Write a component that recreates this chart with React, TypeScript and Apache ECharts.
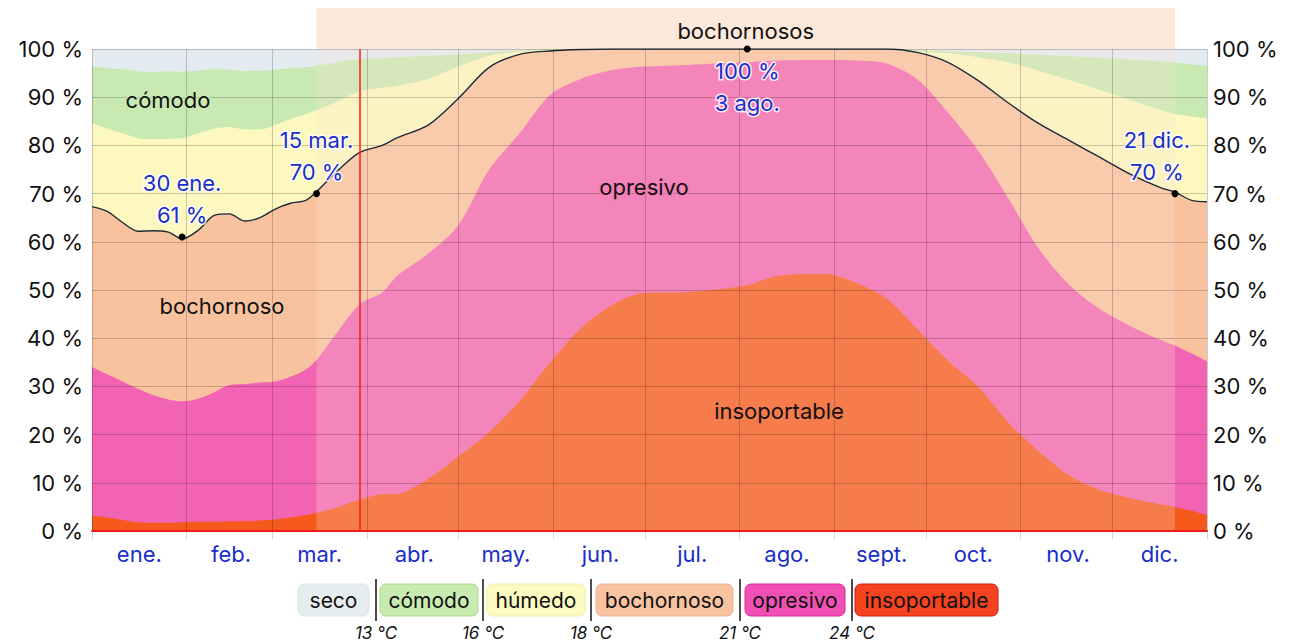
import React, { useEffect, useRef } from "react";
import * as echarts from "echarts";

// Day of year (0 = 1 ene.) at which each boundary value was read
const sampleDays = [0, 5, 10, 15, 20, 25, 29.5, 35, 40, 45, 50, 55, 60, 65, 70, 73.5, 80, 87.5, 95, 100, 110, 120, 130, 140, 150, 160, 170, 180, 195, 214.5, 225, 240, 250, 260, 270, 280, 290, 300, 310, 320, 330, 340, 350, 354.5, 360, 365];

// Cumulative percentage of time at or above each comfort level (upper edge of each band)
const insoportableTop = [3.2, 2.8, 2.3, 1.8, 1.7, 1.7, 1.8, 1.9, 1.9, 2.0, 2.0, 2.2, 2.4, 2.8, 3.3, 3.8, 4.8, 6.5, 7.6, 7.7, 10.8, 15.5, 20.5, 27, 35, 42, 46.8, 49.3, 49.6, 51, 53, 53.3, 51.5, 48.3, 42, 35.5, 30, 22.5, 16.5, 11.5, 8.5, 6.8, 5.5, 5.0, 4.2, 3.3];
const opresivoTop = [34, 32.5, 31, 29.5, 28.2, 27.3, 26.9, 27.5, 28.8, 30.3, 30.5, 30.8, 31, 32, 33.5, 35.5, 41, 47, 49.5, 53, 57.5, 63.5, 75, 82.5, 90.5, 93.8, 95.6, 96.3, 96.7, 97.3, 97.6, 97.7, 97.6, 97, 93.8, 87, 79, 69, 58.5, 51, 46, 42.5, 39.6, 38.5, 36.8, 35.2];
const bochornosoTop = [67.3, 66.3, 64, 62.2, 62.3, 62.0, 60.6, 62.5, 65.5, 65.8, 64.3, 65.0, 66.8, 68.0, 68.6, 70.4, 74.5, 78.5, 80, 81.6, 84.2, 89.8, 96.2, 98.9, 99.6, 99.9, 100, 100, 100, 100, 100, 100, 100, 100, 99.3, 97.3, 93.5, 88.8, 84.5, 81, 77.5, 74, 71.2, 70.3, 68.6, 68.3];
const humedoTop = [84.6, 83.5, 82.5, 81.5, 81.3, 81.4, 81.5, 82.5, 83.5, 83.8, 83.3, 83.3, 84.3, 85.5, 86.5, 87.3, 89, 91.2, 92, 92.4, 93.8, 96.4, 98.6, 99.5, 99.8, 100, 100, 100, 100, 100, 100, 100, 100, 100, 99.5, 99.1, 98.3, 97.2, 95.5, 93.5, 91.5, 89.4, 87.3, 86.5, 86, 85.6];
const comodoTop = [96.3, 96, 95.8, 95.4, 95.3, 95.4, 95.3, 95.5, 95.8, 95.7, 95.4, 95.5, 95.7, 96, 96.2, 96.5, 97.2, 97.9, 98.1, 98.3, 98.6, 98.8, 99.3, 99.7, 100, 100, 100, 100, 100, 100, 100, 100, 100, 100, 99.8, 99.6, 99.3, 99.1, 98.8, 98.5, 98.2, 97.8, 97.4, 97.2, 96.8, 96.4];
const secoTop = sampleDays.map(() => 100);

// Highlighted points of the muggy-time line
const highlights = [
  { day: 29.5, value: 61, label: "30 ene.\n61 %", pos: "top" },
  { day: 73.5, value: 70, label: "15 mar.\n70 %", pos: "top" },
  { day: 214.5, value: 100, label: "100 %\n3 ago.", pos: "bottom" },
  { day: 354.5, value: 70, label: "21 dic.\n70 %", pos: "topLeft" },
];

const bandStartDay = 73.5; // 15 mar.
const bandEndDay = 354.5; // 21 dic.
const todayDay = 87.5;

const monthNames = ["ene.", "feb.", "mar.", "abr.", "may.", "jun.", "jul.", "ago.", "sept.", "oct.", "nov.", "dic."];
const monthLengths = [31, 28, 31, 30, 31, 30, 31, 31, 30, 31, 30, 31];
const yTicks = [0, 10, 20, 30, 40, 50, 60, 70, 80, 90, 100];

const legendItems = [
  { name: "seco", bg: "#e6edf0", border: "#dde5ea" },
  { name: "cómodo", bg: "#c7ebb0", border: "#a9d98c" },
  { name: "húmedo", bg: "#fdfbc2", border: "#f4eea0" },
  { name: "bochornoso", bg: "#f8c3a0", border: "#f1b08a" },
  { name: "opresivo", bg: "#f04fb3", border: "#e0209a" },
  { name: "insoportable", bg: "#f4431f", border: "#e0140f" },
];
const legendTemps = ["13 °C", "16 °C", "18 °C", "21 °C", "24 °C"];

const FONT = "Inter, 'Noto Sans', Roboto, sans-serif";

export default function App() {
  const ref = useRef<HTMLDivElement>(null);

  useEffect(() => {
    if (!ref.current) return;
    const chart = echarts.init(ref.current, undefined, { renderer: "svg" });

    const monthStarts: number[] = [];
    const monthMids: Record<number, string> = {};
    let acc = 0;
    monthLengths.forEach((len, i) => {
      monthStarts.push(acc);
      monthMids[acc + Math.floor(len / 2)] = monthNames[i];
      acc += len;
    });
    const dayCats = Array.from({ length: 365 }, (_, i) => String(i));

    const pts = (arr: number[]) => sampleDays.map((d, i) => [d, arr[i]]);

    const areaSeries = (name: string, arr: number[], color: string) => ({
      name,
      type: "line",
      xAxisIndex: 0,
      yAxisIndex: 0,
      data: pts(arr),
      smooth: 0.3,
      showSymbol: false,
      symbol: "none",
      lineStyle: { width: 0 },
      areaStyle: { color, opacity: 1 },
      z: 2,
      silent: true,
    });

    const option: any = {
      animation: false,
      grid: { left: 92, right: 86, top: 49, bottom: 112, containLabel: false },
      xAxis: [
        {
          type: "value",
          min: 0,
          max: 365,
          show: true,
          axisLabel: { show: false },
          axisTick: { show: false },
          splitLine: { show: false },
          axisLine: { show: true, lineStyle: { color: "#ee1c1c", width: 2 } },
          z: 6,
        },
        {
          type: "category",
          data: dayCats,
          boundaryGap: true,
          position: "bottom",
          axisLine: { show: false },
          axisTick: {
            show: true,
            interval: (i: number) => monthStarts.includes(i),
            length: 8,
            lineStyle: { color: "#d8d8d8" },
          },
          splitLine: {
            show: true,
            interval: (i: number) => monthStarts.includes(i),
            lineStyle: { color: "rgba(0,0,0,0.2)", width: 1 },
          },
          axisLabel: {
            interval: (i: number) => monthMids[i] !== undefined,
            formatter: (_v: string, i: number) => monthMids[i] || "",
            color: "#1a2ec4",
            fontSize: 22,
            fontFamily: FONT,
            margin: 12,
          },
          z: 5,
        },
      ],
      yAxis: [
        {
          type: "value",
          min: yTicks[0],
          max: yTicks[yTicks.length - 1],
          interval: 10,
          position: "left",
          axisLine: { show: false },
          axisTick: { show: false },
          axisLabel: { formatter: "{value} %", fontSize: 22, color: "#111", fontFamily: FONT, margin: 9 },
          splitLine: { show: true, lineStyle: { color: "rgba(0,0,0,0.2)", width: 1 } },
          z: 5,
        },
        {
          type: "value",
          min: yTicks[0],
          max: yTicks[yTicks.length - 1],
          interval: 10,
          position: "right",
          axisLine: { show: false },
          axisTick: { show: false },
          axisLabel: { formatter: "{value} %", fontSize: 22, color: "#111", fontFamily: FONT, margin: 6 },
          splitLine: { show: false },
          z: 5,
        },
      ],
      series: [
        areaSeries("seco", secoTop, "#e4ebf0"),
        areaSeries("cómodo", comodoTop, "#c8eab2"),
        areaSeries("húmedo", humedoTop, "#fcf8bf"),
        areaSeries("bochornoso", bochornosoTop, "#f8c29e"),
        areaSeries("opresivo", opresivoTop, "#f264b3"),
        areaSeries("insoportable", insoportableTop, "#f55a1c"),
        {
          name: "bochornoso-línea",
          type: "line",
          xAxisIndex: 0,
          yAxisIndex: 0,
          data: pts(bochornosoTop),
          smooth: 0.3,
          showSymbol: false,
          symbol: "none",
          lineStyle: { color: "#1e2a36", width: 1.4 },
          z: 4,
          silent: true,
          markLine: {
            silent: true,
            symbol: "none",
            label: { show: false },
            lineStyle: { color: "#ff1a1a", width: 1.5, type: "solid", opacity: 1 },
            data: [{ xAxis: todayDay }],
          },
          markPoint: {
            silent: true,
            symbol: "circle",
            symbolSize: 7,
            itemStyle: { color: "#000" },
            data: highlights.map((h) => ({
              coord: [h.day, h.value],
              label: {
                show: true,
                formatter: h.label,
                position: h.pos === "topLeft" ? "top" : h.pos,
                offset: h.pos === "topLeft" ? [-18, 0] : [0, 0],
                distance: 2,
                color: "#1a2ec8",
                fontSize: 22,
                lineHeight: 32,
                fontFamily: FONT,
                align: "center",
                textBorderColor: "rgba(255,255,255,0.85)",
                textBorderWidth: 3,
              },
            })),
          },
        },
      ],
    };

    chart.setOption(option);

    const x0 = chart.convertToPixel({ xAxisIndex: 0 }, bandStartDay) as number;
    const x1 = chart.convertToPixel({ xAxisIndex: 0 }, bandEndDay) as number;
    const yTop = chart.convertToPixel({ yAxisIndex: 0 }, 100) as number;
    const yBot = chart.convertToPixel({ yAxisIndex: 0 }, 0) as number;

    const txt = (text: string, x: number, y: number, halo: string) => ({
      type: "text",
      z: 7,
      x,
      y,
      style: { text, fill: "#111", font: `22px ${FONT}`, textAlign: "center", textVerticalAlign: "middle", stroke: halo, lineWidth: 3 },
    });

    const graphics: any[] = [
      { type: "rect", z: 1, shape: { x: x0, y: 8, width: x1 - x0, height: yTop - 8 }, style: { fill: "#fde8dc" }, silent: true },
      { type: "rect", z: 3, shape: { x: x0, y: yTop, width: x1 - x0, height: yBot - yTop }, style: { fill: "rgba(253,228,212,0.26)" }, silent: true },
      txt("bochornosos", (x0 + x1) / 2, 31, "rgba(253,232,220,0.9)"),
      txt("cómodo", 168, 100, "rgba(200,234,178,0.9)"),
      txt("bochornoso", 222, 306, "rgba(248,194,158,0.9)"),
      txt("opresivo", 644, 187, "rgba(246,124,180,0.9)"),
      txt("insoportable", 779, 411, "rgba(245,122,80,0.9)"),
    ];

    // Legend
    const boxX = [[298, 369], [380, 478], [487, 585], [596, 733], [745, 845], [855, 998]];
    legendItems.forEach((it, i) => {
      const [a, b] = boxX[i];
      graphics.push({
        type: "rect",
        z: 7,
        shape: { x: a, y: 584, width: b - a, height: 32, r: 6 },
        style: { fill: it.bg, stroke: it.border, lineWidth: 1 },
        silent: true,
      });
      graphics.push({
        type: "text",
        z: 8,
        x: (a + b) / 2,
        y: 600,
        style: { text: it.name, fill: "#111", font: `21px ${FONT}`, textAlign: "center", textVerticalAlign: "middle" },
      });
    });
    const sepX = [376, 483, 591, 740, 852];
    sepX.forEach((sx, i) => {
      graphics.push({ type: "line", z: 8, shape: { x1: sx, y1: 579, x2: sx, y2: 621 }, style: { stroke: "#111", lineWidth: 1.5 } });
      graphics.push({
        type: "text",
        z: 8,
        x: sx,
        y: 633,
        style: { text: legendTemps[i], fill: "#111", font: `italic 17px ${FONT}`, textAlign: "center", textVerticalAlign: "middle" },
      });
    });

    chart.setOption({ graphic: graphics });

    return () => chart.dispose();
  }, []);

  return <div ref={ref} style={{ position: "fixed", left: 0, top: 0, width: 1293, height: 643, background: "#fff" }} />;
}
